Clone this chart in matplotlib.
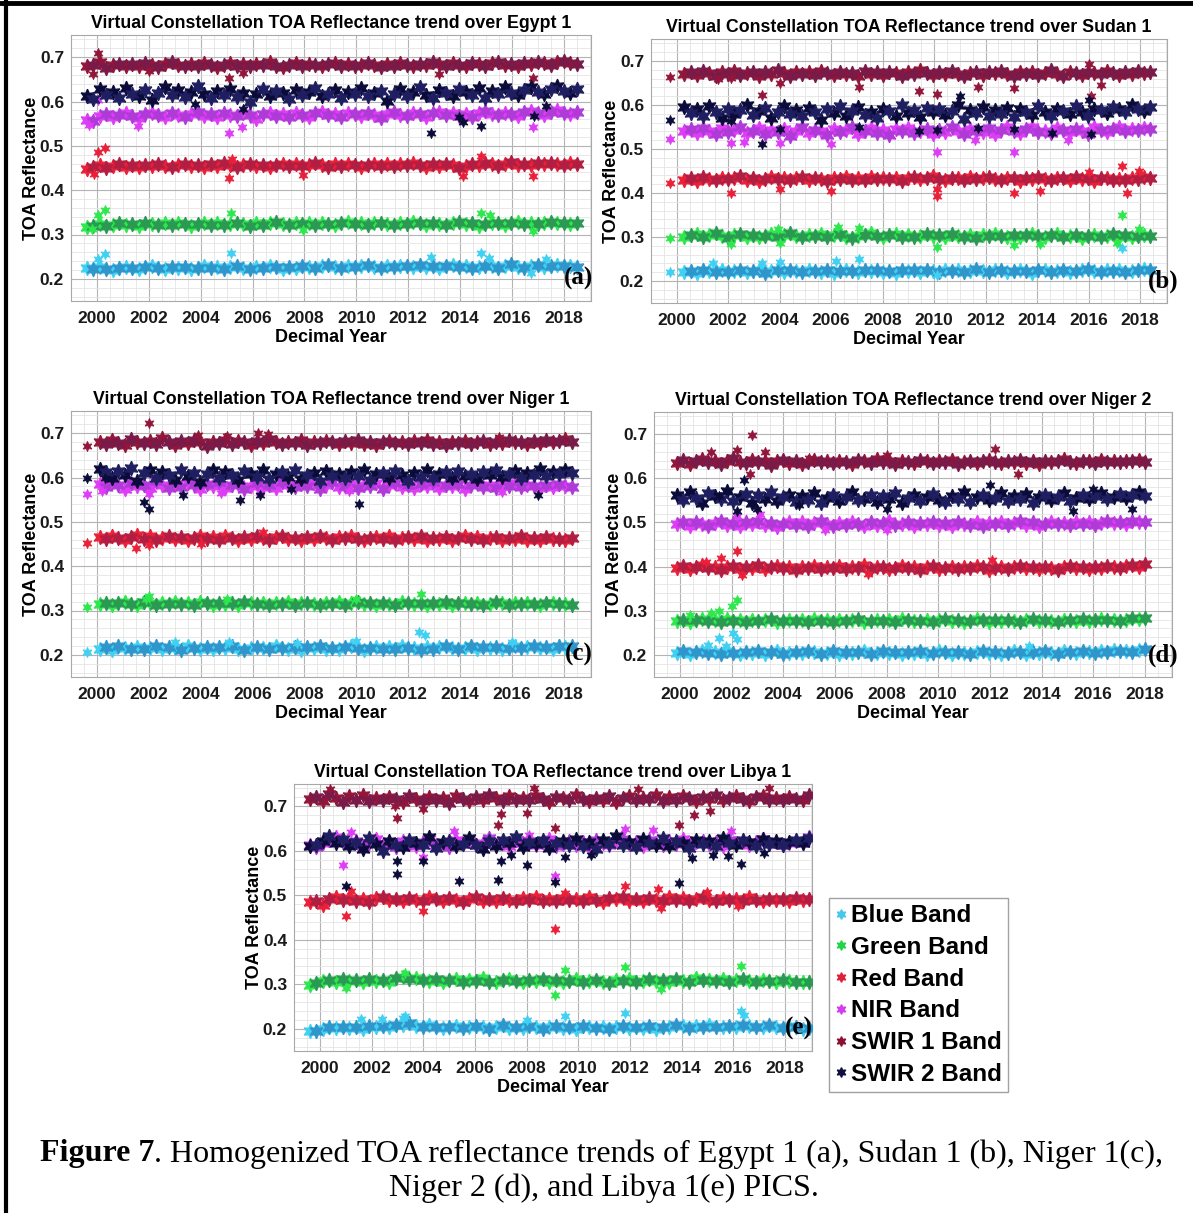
"""Figure 7: homogenized TOA reflectance trends over five PICS (virtual constellation)."""
import matplotlib
matplotlib.use("Agg")
import matplotlib.pyplot as plt
import matplotlib.transforms as mtransforms
from matplotlib.lines import Line2D
from matplotlib.ticker import MultipleLocator
import numpy as np

plt.rcParams["font.family"] = ["Liberation Sans", "DejaVu Sans"]

BANDS = ["Blue Band", "Green Band", "Red Band", "NIR Band", "SWIR 1 Band", "SWIR 2 Band"]
SITES = ["Egypt 1", "Sudan 1", "Niger 1", "Niger 2", "Libya 1"]
TAGS = ["(a)", "(b)", "(c)", "(d)", "(e)"]
# first / last decimal year of the dense record in each panel
SPANS = [(1999.6, 2018.5), (2000.3, 2018.4), (2000.1, 2018.3), (1999.9, 2018.0), (1999.6, 2018.95)]

# reflectance x1000, roughly quarterly samples read off the clouds
# ---- (a) Egypt 1
A_BLUE = [224, 222, 226, 223, 221, 225, 227, 224, 222, 226, 228, 225, 223, 227, 224, 226, 222, 225, 228, 224,
          226, 223, 227, 229, 225, 222, 226, 224, 228, 226, 223, 227, 225, 229, 226, 224, 228, 231, 227, 225,
          229, 226, 228, 232, 227, 225, 229, 226, 230, 228, 226, 231, 227, 229, 225, 228, 232, 226, 229, 224,
          227, 230, 228, 225, 229, 233, 227, 224, 228, 231, 226, 229, 232, 228, 230, 227]
A_GREEN = [317, 320, 323, 319, 322, 325, 321, 324, 320, 326, 323, 321, 325, 322, 327, 324, 320, 323, 326, 322,
           325, 321, 324, 327, 323, 320, 326, 322, 325, 328, 324, 321, 325, 323, 327, 322, 326, 324, 321, 325,
           328, 323, 326, 322, 325, 327, 324, 321, 326, 323, 328, 325, 322, 326, 324, 321, 325, 328, 323, 326,
           320, 324, 327, 325, 322, 326, 329, 324, 327, 323, 326, 328, 325, 327, 324, 326]
A_RED = [448, 452, 456, 451, 455, 458, 453, 456, 452, 457, 454, 459, 455, 452, 457, 460, 454, 456, 453, 458,
         455, 461, 457, 453, 456, 459, 454, 457, 452, 456, 460, 455, 458, 454, 457, 461, 456, 453, 458, 455,
         459, 456, 452, 457, 460, 455, 458, 454, 459, 456, 461, 457, 453, 458, 455, 460, 456, 450, 454, 459,
         457, 462, 458, 455, 460, 463, 457, 459, 456, 461, 458, 462, 459, 457, 461, 460]
A_NIR = [558, 556, 568, 572, 565, 570, 574, 567, 562, 571, 575, 569, 566, 573, 570, 564, 572, 576, 568, 571,
         565, 574, 570, 567, 573, 569, 560, 571, 575, 568, 572, 566, 574, 570, 565, 573, 577, 569, 572, 566,
         575, 571, 568, 574, 570, 563, 572, 576, 570, 567, 574, 571, 566, 573, 577, 570, 575, 568, 572, 566,
         574, 578, 571, 569, 575, 572, 567, 576, 579, 573, 570, 577, 581, 575, 572, 576]
A_SWIR1 = [680, 682, 688, 676, 682, 685, 679, 684, 681, 686, 683, 678, 684, 688, 682, 679, 685, 681, 687, 683,
           677, 682, 686, 680, 684, 679, 685, 682, 688, 681, 677, 683, 686, 680, 685, 682, 679, 684, 687, 681,
           685, 680, 683, 687, 682, 678, 684, 681, 686, 683, 680, 685, 682, 688, 684, 679, 686, 683, 681, 687,
           684, 680, 686, 689, 683, 685, 681, 687, 684, 690, 686, 683, 688, 692, 686, 684]
A_SWIR2 = [612, 605, 628, 615, 622, 608, 630, 618, 612, 625, 603, 620, 632, 614, 626, 610, 622, 635, 617, 607,
           624, 615, 629, 611, 620, 598, 616, 628, 612, 624, 619, 606, 627, 614, 621, 631, 613, 618, 625, 609,
           622, 616, 630, 612, 620, 624, 601, 617, 628, 613, 622, 632, 615, 608, 626, 619, 612, 628, 621, 615,
           630, 608, 624, 618, 632, 620, 615, 627, 633, 622, 618, 629, 636, 624, 620, 628]
# stray points: (band index, decimal year, reflectance)
A_OUT = [(0, 2000.05, .245), (0, 2000.3, .257), (0, 2005.15, .258), (0, 2012.9, .250), (0, 2014.8, .258),
         (0, 2015.1, .248), (0, 2017.3, .245), (0, 2016.75, .214),
         (1, 2000.05, .345), (1, 2000.3, .355), (1, 2005.15, .348), (1, 2014.8, .349), (1, 2015.15, .343),
         (1, 2007.95, .311), (1, 2016.8, .307), (1, 1999.8, .312),
         (2, 1999.9, .437), (2, 2000.05, .487), (2, 2000.3, .495), (2, 2005.1, .428), (2, 2005.2, .471),
         (2, 2007.95, .435), (2, 2014.1, .432), (2, 2014.8, .478), (2, 2016.8, .433),
         (3, 2000.05, .603), (3, 1999.7, .548), (3, 2001.6, .545), (3, 2005.1, .528), (3, 2005.6, .542),
         (3, 2016.8, .543),
         (4, 2000.05, .710), (4, 1999.85, .663), (4, 2005.1, .652), (4, 2013.2, .662), (4, 2016.8, .652),
         (4, 2005.65, .665), (4, 2002.0, .668),
         (5, 2012.9, .530), (5, 2013.95, .565), (5, 2014.1, .553), (5, 2014.8, .545), (5, 2016.85, .568),
         (5, 2017.3, .590), (5, 2005.65, .582), (5, 2003.8, .595)]

# ---- (b) Sudan 1
B_BLUE = [221, 223, 219, 224, 222, 220, 225, 221, 223, 226, 220, 222, 224, 219, 223, 225, 221, 224, 222, 220,
          226, 223, 221, 224, 219, 222, 225, 223, 220, 224, 222, 226, 221, 223, 219, 225, 222, 224, 221, 226,
          223, 220, 224, 222, 225, 221, 223, 227, 222, 220, 224, 226, 221, 223, 225, 222, 219, 224, 226, 221,
          223, 225, 220, 222, 224, 227, 223, 221, 225, 222, 224, 220, 223, 226, 228, 224]
B_GREEN = [301, 304, 306, 299, 305, 310, 302, 298, 304, 307, 301, 305, 299, 303, 306, 300, 304, 308, 302, 299,
           305, 303, 307, 300, 304, 306, 301, 298, 303, 305, 309, 302, 300, 304, 306, 301, 305, 299, 303, 307,
           302, 304, 300, 306, 303, 301, 305, 298, 304, 302, 306, 303, 300, 305, 301, 304, 307, 302, 299, 304,
           306, 301, 303, 305, 298, 302, 304, 300, 303, 306, 301, 304, 299, 302, 305, 303]
B_RED = [430, 434, 428, 436, 432, 429, 435, 431, 433, 438, 430, 434, 427, 432, 436, 431, 435, 429, 433, 437,
         430, 434, 431, 428, 435, 432, 436, 430, 433, 429, 437, 432, 434, 431, 435, 428, 433, 436, 431, 434,
         439, 432, 430, 435, 433, 429, 436, 431, 434, 437, 432, 430, 435, 433, 428, 434, 431, 436, 432, 429,
         435, 433, 430, 436, 431, 434, 428, 433, 435, 430, 432, 429, 434, 431, 436, 433]
B_NIR = [540, 545, 536, 548, 542, 533, 547, 539, 544, 551, 537, 542, 548, 534, 543, 539, 546, 530, 541, 549,
         536, 544, 540, 532, 546, 538, 543, 550, 535, 541, 547, 537, 543, 531, 545, 540, 548, 536, 542, 546,
         533, 544, 539, 549, 541, 535, 546, 542, 538, 547, 534, 543, 549, 540, 537, 545, 551, 539, 542, 536,
         548, 544, 538, 546, 541, 535, 549, 543, 539, 545, 550, 541, 546, 543, 548, 545]
B_SWIR1 = [670, 674, 668, 677, 672, 666, 675, 671, 678, 669, 673, 676, 667, 674, 670, 679, 672, 665, 676, 671,
           674, 668, 677, 672, 669, 675, 670, 673, 666, 678, 671, 674, 669, 676, 672, 667, 675, 670, 679, 673,
           668, 674, 671, 677, 670, 666, 673, 676, 669, 675, 672, 678, 670, 665, 674, 671, 676, 669, 673, 680,
           671, 667, 675, 672, 669, 676, 673, 670, 678, 672, 668, 675, 671, 677, 673, 676]
B_SWIR2 = [595, 582, 590, 576, 598, 585, 571, 592, 580, 588, 601, 577, 586, 594, 570, 583, 597, 579, 589, 575,
           593, 584, 566, 590, 581, 598, 574, 587, 595, 578, 583, 570, 592, 586, 575, 599, 581, 588, 573, 594,
           584, 591, 577, 586, 600, 569, 589, 582, 596, 576, 588, 580, 593, 572, 590, 585, 578, 597, 583, 574,
           591, 587, 579, 598, 584, 575, 592, 588, 581, 596, 590, 583, 599, 591, 586, 595]
B_OUT = [(0, 1999.75, .220), (1, 1999.75, .298), (2, 1999.75, .423), (3, 1999.75, .523), (4, 1999.75, .663),
         (5, 1999.75, .565),
         (0, 2001.4, .240), (0, 2003.3, .241), (0, 2004.0, .243), (0, 2006.2, .245), (0, 2007.1, .251),
         (0, 2017.3, .274), (0, 2010.1, .213),
         (1, 2002.1, .283), (1, 2003.95, .318), (1, 2004.0, .287), (1, 2006.25, .322), (1, 2007.1, .321),
         (1, 2010.1, .277), (1, 2013.1, .281), (1, 2014.1, .283), (1, 2017.3, .350), (1, 2017.1, .286),
         (1, 2017.95, .318),
         (2, 2002.1, .401), (2, 2004.0, .408), (2, 2006.0, .404), (2, 2010.1, .410), (2, 2010.12, .393),
         (2, 2013.1, .399), (2, 2014.1, .405), (2, 2016.0, .447), (2, 2017.3, .461), (2, 2017.5, .400),
         (2, 2017.95, .449),
         (3, 2002.1, .513), (3, 2002.6, .517), (3, 2004.0, .514), (3, 2006.0, .512), (3, 2010.1, .493),
         (3, 2013.1, .493), (3, 2011.6, .520), (3, 2015.2, .520),
         (4, 2002.1, .662), (4, 2003.3, .622), (4, 2007.1, .640), (4, 2009.4, .631), (4, 2010.1, .625),
         (4, 2011.7, .642), (4, 2013.1, .639), (4, 2016.0, .694), (4, 2016.1, .621), (4, 2016.5, .645),
         (4, 2004.0, .650), (4, 2001.6, .658),
         (5, 2003.3, .511), (5, 2011.0, .620), (5, 2009.4, .542), (5, 2010.1, .543), (5, 2016.1, .533),
         (5, 2014.6, .537), (5, 2013.1, .545), (5, 2002.1, .563), (5, 2007.1, .549), (5, 2011.7, .547),
         (5, 2004.0, .545), (5, 2016.0, .612)]

# ---- (c) Niger 1
C_BLUE = [214, 217, 212, 219, 215, 213, 218, 214, 216, 220, 213, 217, 215, 212, 219, 216, 214, 218, 213, 217,
          215, 220, 214, 212, 216, 218, 215, 213, 219, 216, 214, 217, 212, 218, 215, 220, 214, 216, 213, 217,
          219, 215, 212, 216, 218, 214, 217, 213, 219, 215, 216, 212, 218, 214, 217, 220, 215, 213, 216, 219,
          214, 217, 215, 218, 213, 216, 219, 215, 217, 220, 216, 218, 214, 219, 217, 221]
C_GREEN = [314, 318, 312, 317, 320, 315, 313, 319, 316, 312, 318, 315, 320, 314, 317, 313, 319, 316, 312, 318,
           315, 317, 313, 320, 316, 314, 318, 312, 317, 315, 319, 313, 316, 318, 314, 312, 317, 315, 319, 313,
           316, 320, 314, 317, 312, 318, 315, 313, 319, 316, 314, 317, 312, 318, 315, 320, 313, 316, 318, 314,
           317, 312, 315, 319, 316, 313, 318, 314, 317, 315, 312, 316, 318, 314, 315, 313]
C_RED = [466, 461, 468, 463, 459, 465, 470, 462, 467, 460, 464, 469, 461, 466, 458, 463, 468, 462, 465, 460,
         467, 463, 459, 466, 462, 469, 464, 460, 465, 467, 461, 463, 458, 466, 462, 468, 464, 460, 465, 463,
         467, 461, 459, 464, 466, 462, 468, 460, 463, 465, 461, 467, 459, 464, 462, 466, 460, 463, 468, 461,
         465, 459, 463, 466, 460, 464, 462, 467, 460, 463, 458, 465, 461, 462, 459, 464]
C_NIR = [585, 578, 590, 582, 575, 588, 580, 584, 577, 591, 583, 576, 586, 579, 588, 582, 574, 585, 580, 589,
         577, 583, 586, 575, 581, 588, 579, 584, 576, 590, 582, 578, 585, 580, 587, 574, 583, 589, 578, 581,
         586, 577, 584, 580, 588, 575, 582, 587, 579, 583, 576, 585, 581, 589, 577, 584, 580, 586, 575, 582,
         588, 579, 583, 577, 585, 581, 587, 578, 584, 580, 576, 583, 579, 585, 581, 578]
C_SWIR1 = [680, 676, 684, 678, 673, 686, 681, 677, 683, 675, 688, 679, 674, 682, 677, 685, 680, 672, 681, 678,
           684, 676, 682, 679, 674, 683, 677, 686, 680, 675, 681, 678, 684, 673, 680, 677, 683, 679, 675, 682,
           678, 685, 676, 681, 674, 679, 683, 677, 680, 675, 682, 678, 684, 676, 680, 674, 681, 678, 683, 676,
           679, 682, 675, 680, 677, 684, 679, 681, 676, 683, 678, 685, 680, 682, 686, 680]
C_SWIR2 = [620, 612, 598, 615, 605, 622, 592, 610, 618, 600, 613, 606, 595, 617, 603, 611, 590, 608, 616, 599,
           612, 605, 594, 614, 607, 601, 616, 597, 609, 613, 602, 618, 596, 606, 611, 593, 615, 604, 609, 598,
           612, 603, 617, 594, 607, 610, 600, 614, 605, 592, 611, 602, 616, 598, 608, 613, 600, 615, 604, 609,
           596, 612, 606, 617, 601, 609, 614, 598, 611, 606, 619, 604, 612, 608, 616, 610]
C_OUT = [(0, 1999.6, .207), (1, 1999.6, .307), (2, 1999.6, .453), (3, 1999.6, .562), (4, 1999.6, .672),
         (5, 1999.6, .598),
         (0, 2012.4, .251), (0, 2012.65, .245), (0, 2010.0, .232), (0, 2005.1, .229), (0, 2003.0, .228),
         (0, 2007.7, .226), (0, 2016.0, .228),
         (1, 2002.0, .332), (1, 2012.5, .338), (1, 2001.9, .325), (1, 2005.0, .326), (1, 2010.0, .326),
         (2, 2001.5, .440), (2, 2002.0, .448), (2, 2006.4, .476), (2, 2004.0, .450),
         (3, 2002.0, .563), (3, 2004.8, .565), (3, 2006.3, .568), (3, 2009.7, .570), (3, 2015.6, .567),
         (3, 2000.2, .570),
         (4, 2002.0, .722), (4, 2006.2, .700), (4, 2003.9, .695), (4, 2006.6, .697), (4, 2005.0, .694),
         (4, 2015.5, .692),
         (5, 2002.0, .530), (5, 2001.8, .545), (5, 2003.3, .560), (5, 2005.5, .550), (5, 2006.3, .560),
         (5, 2007.5, .575), (5, 2010.1, .540), (5, 2017.0, .560), (5, 2000.3, .600)]

# ---- (d) Niger 2
D_BLUE = [205, 208, 203, 206, 210, 204, 207, 202, 209, 205, 203, 207, 204, 208, 202, 206, 209, 203, 205, 207,
          204, 210, 206, 202, 205, 208, 203, 207, 204, 206, 209, 202, 205, 208, 204, 206, 203, 207, 205, 209,
          202, 204, 208, 206, 203, 207, 205, 201, 206, 209, 204, 207, 203, 205, 208, 206, 202, 207, 204, 209,
          205, 203, 208, 206, 204, 210, 207, 205, 209, 206, 211, 208, 210, 207, 212, 214]
D_GREEN = [277, 280, 275, 279, 282, 276, 278, 274, 281, 277, 279, 275, 280, 276, 278, 282, 274, 277, 280, 276,
           279, 275, 281, 277, 278, 274, 280, 276, 279, 282, 275, 277, 280, 276, 278, 274, 281, 279, 276, 277,
           280, 275, 278, 282, 276, 279, 274, 277, 281, 278, 275, 279, 276, 280, 277, 274, 278, 281, 276, 279,
           277, 275, 280, 278, 276, 281, 277, 279, 282, 278, 280, 276, 279, 283, 281, 284]
D_RED = [397, 401, 394, 399, 403, 396, 400, 393, 398, 402, 395, 399, 397, 404, 394, 398, 401, 396, 399, 393,
         400, 397, 402, 395, 398, 396, 401, 394, 399, 397, 403, 395, 398, 400, 394, 397, 401, 396, 399, 393,
         398, 402, 395, 397, 400, 394, 399, 396, 401, 398, 393, 397, 400, 395, 399, 402, 396, 398, 394, 400,
         397, 393, 399, 401, 396, 398, 394, 400, 397, 402, 399, 396, 401, 404, 400, 406]
D_NIR = [496, 500, 493, 502, 497, 491, 499, 504, 495, 498, 492, 501, 496, 503, 494, 499, 490, 497, 502, 495,
         500, 493, 498, 503, 496, 491, 499, 494, 501, 497, 492, 500, 495, 498, 503, 494, 497, 500, 492, 499,
         496, 502, 494, 498, 491, 500, 497, 495, 502, 493, 499, 496, 501, 494, 498, 503, 495, 500, 492, 497,
         501, 496, 499, 494, 502, 497, 500, 495, 498, 503, 499, 501, 497, 504, 500, 502]
D_SWIR1 = [635, 641, 632, 638, 643, 636, 640, 633, 639, 645, 637, 634, 642, 636, 639, 631, 638, 641, 635, 640,
           633, 637, 642, 636, 639, 634, 640, 637, 632, 641, 638, 635, 643, 636, 639, 633, 640, 637, 635, 641,
           638, 634, 639, 636, 642, 633, 637, 640, 635, 638, 642, 636, 634, 639, 637, 641, 635, 638, 633, 640,
           636, 639, 643, 637, 634, 640, 638, 635, 641, 637, 639, 636, 640, 638, 641, 637]
D_SWIR2 = [563, 550, 570, 556, 545, 567, 560, 552, 572, 548, 558, 565, 543, 561, 553, 568, 549, 557, 563, 546,
           559, 551, 566, 544, 555, 562, 548, 557, 569, 550, 554, 561, 546, 559, 552, 567, 543, 556, 563, 549,
           558, 565, 551, 546, 560, 554, 568, 547, 557, 562, 550, 556, 566, 548, 559, 553, 564, 545, 557, 561,
           551, 558, 566, 549, 555, 563, 552, 560, 567, 554, 558, 565, 556, 562, 569, 560]
D_OUT = [(0, 2001.5, .238), (0, 2001.8, .221), (0, 2002.2, .235), (0, 2002.05, .250), (0, 2001.1, .222),
         (0, 2013.5, .220),
         (1, 2001.5, .300), (1, 2002.2, .325), (1, 2001.2, .295), (1, 2002.0, .310), (1, 2000.4, .290),
         (2, 2002.2, .435), (2, 2001.6, .420), (2, 2002.4, .380), (2, 2007.3, .383), (2, 2012.1, .414),
         (2, 2001.0, .410),
         (3, 2003.1, .520), (3, 2008.0, .483), (3, 2005.6, .482), (3, 2002.2, .515),
         (4, 2002.8, .697), (4, 2002.2, .665), (4, 2001.2, .660), (4, 2003.3, .660), (4, 2005.0, .645),
         (4, 2002.7, .610), (4, 2012.2, .667), (4, 2013.1, .610), (4, 2008.0, .652),
         (5, 2002.5, .595), (5, 2002.2, .525), (5, 2003.0, .530), (5, 2001.5, .560), (5, 2004.6, .540),
         (5, 2008.0, .530), (5, 2012.0, .585), (5, 2016.0, .575), (5, 2015.2, .525), (5, 2017.5, .530)]

# ---- (e) Libya 1
E_BLUE = [194, 196, 199, 203, 201, 205, 202, 204, 200, 206, 203, 207, 205, 209, 208, 212, 206, 204, 208, 203,
          201, 205, 207, 202, 204, 206, 203, 200, 205, 208, 202, 204, 201, 206, 203, 199, 205, 207, 202, 204,
          200, 206, 203, 201, 205, 199, 203, 207, 201, 204, 202, 206, 200, 203, 205, 208, 206, 202, 207, 204,
          209, 205, 203, 207, 204, 209, 206, 203, 205, 208, 204, 202, 206, 203, 200, 201]
E_GREEN = [299, 302, 308, 310, 305, 311, 307, 309, 304, 312, 308, 310, 306, 313, 316, 311, 314, 309, 307, 311,
           305, 309, 312, 306, 310, 308, 313, 306, 304, 309, 311, 307, 305, 310, 308, 312, 306, 309, 304, 307,
           311, 305, 308, 310, 306, 303, 309, 307, 311, 305, 308, 312, 307, 309, 304, 311, 308, 306, 313, 309,
           310, 307, 312, 306, 309, 311, 307, 305, 310, 308, 306, 309, 307, 304, 306, 305]
E_RED = [485, 487, 478, 492, 496, 489, 494, 487, 491, 485, 493, 497, 489, 492, 486, 494, 490, 488, 495, 491,
         487, 493, 489, 485, 492, 496, 488, 491, 486, 494, 490, 487, 493, 489, 495, 486, 491, 488, 494, 490,
         492, 487, 495, 489, 485, 493, 491, 497, 488, 492, 486, 494, 490, 488, 495, 489, 493, 486, 491, 497,
         490, 487, 494, 489, 492, 488, 495, 490, 486, 492, 489, 491, 488, 493, 490, 491]
E_NIR = [612, 608, 618, 625, 631, 620, 614, 622, 610, 617, 626, 612, 619, 608, 623, 615, 611, 620, 627, 613,
         618, 609, 624, 616, 621, 612, 618, 628, 614, 619, 610, 625, 617, 622, 613, 619, 626, 611, 616, 623,
         614, 620, 609, 625, 617, 612, 621, 627, 615, 619, 611, 624, 618, 613, 622, 616, 626, 612, 619, 623,
         615, 620, 610, 625, 617, 621, 614, 619, 626, 616, 620, 613, 618, 622, 617, 630]
E_SWIR1 = [716, 720, 712, 728, 718, 709, 722, 715, 725, 711, 719, 713, 720, 716, 710, 724, 717, 712, 721, 715,
           719, 708, 723, 716, 712, 720, 714, 726, 718, 711, 722, 715, 719, 713, 724, 716, 710, 721, 718, 714,
           725, 717, 712, 719, 715, 722, 710, 718, 724, 713, 719, 716, 726, 712, 720, 715, 723, 718, 711, 721,
           717, 725, 714, 719, 722, 716, 711, 720, 724, 715, 719, 713, 721, 717, 714, 725]
E_SWIR2 = [610, 613, 622, 633, 618, 627, 611, 620, 605, 629, 615, 600, 622, 614, 608, 625, 617, 612, 630, 606,
           619, 623, 610, 616, 628, 613, 603, 621, 611, 624, 618, 632, 609, 620, 615, 625, 607, 618, 622, 613,
           627, 610, 619, 605, 624, 616, 633, 612, 620, 609, 626, 617, 614, 628, 611, 622, 618, 607, 625, 615,
           621, 611, 629, 617, 613, 624, 619, 610, 626, 616, 622, 614, 620, 625, 618, 628]
E_OUT = [(0, 2001.6, .223), (0, 2002.4, .223), (0, 2003.2, .225), (0, 2003.3, .228), (0, 2008.0, .219),
         (0, 2009.5, .229), (0, 2011.8, .236), (0, 2016.3, .240), (0, 2016.4, .230),
         (1, 2009.1, .275), (1, 2009.5, .333), (1, 2011.8, .338), (1, 2016.3, .340), (1, 2013.2, .290),
         (1, 2003.3, .325), (1, 2001.0, .292),
         (2, 2001.0, .453), (2, 2001.2, .510), (2, 2004.0, .465), (2, 2009.1, .425), (2, 2011.8, .520),
         (2, 2013.1, .515), (2, 2013.2, .472), (2, 2009.5, .505), (2, 2015.0, .507), (2, 2016.2, .475),
         (3, 2000.9, .567), (3, 2009.1, .543), (3, 2004.0, .585), (3, 2011.8, .648), (3, 2012.9, .647),
         (3, 2008.1, .635), (3, 2001.2, .642), (3, 2005.2, .645), (3, 2015.9, .645), (3, 2009.1, .620),
         (4, 2003.0, .673), (4, 2004.0, .693), (4, 2006.9, .657), (4, 2007.0, .683), (4, 2008.0, .685),
         (4, 2009.1, .652), (4, 2014.5, .680), (4, 2013.9, .658), (4, 2015.1, .690), (4, 2002.9, .700),
         (4, 2008.3, .740), (4, 2017.4, .740), (4, 2000.4, .738), (4, 2012.3, .738),
         (5, 2001.0, .520), (5, 2003.0, .547), (5, 2003.0, .578), (5, 2005.4, .533), (5, 2006.9, .535),
         (5, 2008.0, .567), (5, 2009.1, .530), (5, 2009.5, .585), (5, 2013.9, .528), (5, 2014.4, .583),
         (5, 2016.3, .570), (5, 2015.2, .590), (5, 2007.0, .577), (5, 2007.4, .590), (5, 2004.0, .577),
         (5, 2010.5, .590), (5, 2015.8, .588), (5, 2017.2, .595)]

PANEL_SERIES = [
    [A_BLUE, A_GREEN, A_RED, A_NIR, A_SWIR1, A_SWIR2],
    [B_BLUE, B_GREEN, B_RED, B_NIR, B_SWIR1, B_SWIR2],
    [C_BLUE, C_GREEN, C_RED, C_NIR, C_SWIR1, C_SWIR2],
    [D_BLUE, D_GREEN, D_RED, D_NIR, D_SWIR1, D_SWIR2],
    [E_BLUE, E_GREEN, E_RED, E_NIR, E_SWIR1, E_SWIR2],
]
PANEL_OUT = [A_OUT, B_OUT, C_OUT, D_OUT, E_OUT]

# two shades per band (the constellation mixes several sensors)
SHADES = [("#3fd0f2", "#2f96cc"), ("#2de84c", "#2a9a52"), ("#ea1f38", "#b21e42"),
          ("#de3cf6", "#b03ad8"), ("#92153a", "#791a48"), ("#0b0b3a", "#1e1e60")]
LEG_COLORS = ["#46c8e8", "#22d44a", "#e0203a", "#d43cf0", "#8b1030", "#101040"]
STAR = (6, 1, 0)

W, H = 1193, 1213
# axes boxes in pixels: left, top, right, bottom
BOXES = [(71, 35, 591, 301), (651, 39, 1167, 303), (71, 411, 591, 677),
         (654, 412, 1172, 677), (294, 784, 812, 1051)]
TAG_DX = [0.004, 0.022, 0.004, 0.012, 0.002]

fig = plt.figure(figsize=(W / 100, H / 100), dpi=100)

for p in range(5):
    l, t, r, b = BOXES[p]
    ax = fig.add_axes([l / W, 1 - b / H, (r - l) / W, (b - t) / H])
    start, end = SPANS[p]
    for k in range(6):
        vals = np.array(PANEL_SERIES[p][k]) / 1000.0
        yrs = np.linspace(start, end, len(vals))
        for j in range(2):
            ax.plot(yrs[j::2], vals[j::2], ls="none", marker=STAR, ms=10.5,
                    mfc=SHADES[k][j], mec=SHADES[k][j], mew=0.9, zorder=3 + k)
        ox = [o[1] for o in PANEL_OUT[p] if o[0] == k]
        oy = [o[2] for o in PANEL_OUT[p] if o[0] == k]
        ax.plot(ox, oy, ls="none", marker=STAR, ms=7.5, mfc=SHADES[k][0],
                mec=SHADES[k][0], mew=0.5, zorder=3 + k)

    ax.set_xlim(1999.0, 2019.05)
    ax.set_ylim(0.15, 0.75)
    ax.set_xticks(np.arange(2000, 2019, 2))
    ax.set_yticks([0.2, 0.3, 0.4, 0.5, 0.6, 0.7])
    ax.yaxis.set_major_formatter(plt.FormatStrFormatter("%.1f"))
    ax.xaxis.set_minor_locator(MultipleLocator(0.5))
    ax.yaxis.set_minor_locator(MultipleLocator(0.02))
    ax.grid(which="major", color="#b4b4b4", lw=0.8, zorder=0)
    ax.grid(which="minor", color="#e4e4e4", lw=0.6, zorder=0)
    ax.set_axisbelow(True)
    ax.tick_params(which="both", direction="in", length=0)
    ax.tick_params(axis="x", pad=7, labelsize=12.5)
    ax.tick_params(axis="y", pad=5, labelsize=12.5)
    for lab in ax.get_xticklabels() + ax.get_yticklabels():
        lab.set_fontweight("bold")
        lab.set_color("#1a1a1a")
    for s in ax.spines.values():
        s.set_color("#a8a8a8")
        s.set_linewidth(0.8)
    ax.set_title(f"Virtual Constellation TOA Reflectance trend over {SITES[p]}",
                 fontsize=12.8, fontweight="bold", pad=5)
    ax.set_xlabel("Decimal Year", fontsize=13, fontweight="bold", labelpad=2)
    ax.set_ylabel("TOA Reflectance", fontsize=13, fontweight="bold", labelpad=0)
    trans = mtransforms.blended_transform_factory(ax.transAxes, ax.transData)
    ax.text(1.0 + TAG_DX[p], 0.2, TAGS[p], transform=trans, ha="right", va="center",
            fontsize=18, fontweight="bold", family="Liberation Serif", zorder=20)

handles = [Line2D([], [], ls="none", marker=STAR, ms=7, mfc=c, mec=c) for c in LEG_COLORS]
leg = fig.legend(handles, BANDS, loc="upper left", bbox_to_anchor=(829 / W, 1 - 898 / H),
                 borderaxespad=0, frameon=True, fancybox=False, handlelength=0.45,
                 handletextpad=0.2, labelspacing=0.36, borderpad=0.25,
                 prop={"weight": "bold", "size": 17.5})
leg.get_frame().set_edgecolor("#8a8a8a")
leg.get_frame().set_linewidth(1.0)

# page border of the original figure
fig.add_artist(Line2D([0, 1], [1 - 2.5 / H, 1 - 2.5 / H], color="black", lw=3.5, transform=fig.transFigure))
fig.add_artist(Line2D([6 / W, 6 / W], [0, 1], color="black", lw=3, transform=fig.transFigure))

# caption with bold "Figure 7"
cap_font = dict(family="Liberation Serif", size=23)
t1 = fig.text(40 / W, 1 - 1154 / H, "Figure 7", fontweight="bold", ha="left", va="center", **cap_font)
fig.canvas.draw()
bb = t1.get_window_extent()
fig.text(bb.x1 / W, 1 - 1154 / H,
         ". Homogenized TOA reflectance trends of Egypt 1 (a), Sudan 1 (b), Niger 1(c),",
         ha="left", va="center", **cap_font)
fig.text(604 / W, 1 - 1188 / H, "Niger 2 (d), and Libya 1(e) PICS.", ha="center", va="center", **cap_font)

fig.savefig("out.png", dpi=100)
